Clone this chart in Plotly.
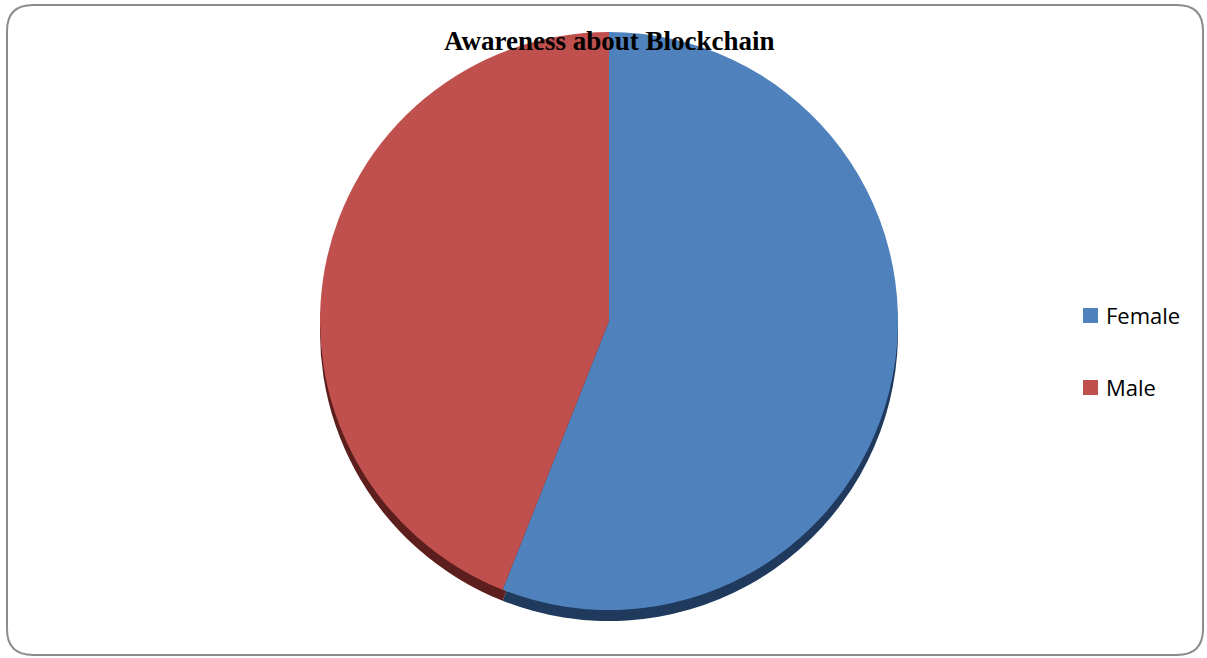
import plotly.graph_objects as go

# Chart data
labels = ["Female", "Male"]
values = [56, 44]
colors = ["#4F81BD", "#C0504D"]
edge_colors = ["#1F3A5C", "#5C1F1D"]
title_text = "Awareness about Blockchain"

W, H = 1207, 658


def px(x):
    return x / W


def py(y):
    return 1 - y / H


# Pie geometry (pixels)
cx, cy, r = 609, 321, 289
depth = 11

fig = go.Figure()

# darker copy shifted down gives the pie its thickness
fig.add_trace(go.Pie(
    labels=labels, values=values, sort=False, direction="clockwise",
    marker=dict(colors=edge_colors, line=dict(width=0)),
    textinfo="none", hoverinfo="skip", showlegend=False,
    domain=dict(x=[px(cx - r), px(cx + r)], y=[py(cy + depth + r), py(cy + depth - r)]),
))
fig.add_trace(go.Pie(
    labels=labels, values=values, sort=False, direction="clockwise",
    marker=dict(colors=colors, line=dict(width=0)),
    textinfo="none", showlegend=False,
    domain=dict(x=[px(cx - r), px(cx + r)], y=[py(cy + r), py(cy - r)]),
))

# rounded chart-area border
x0, y0, x1, y1, rr = 7, 5, 1203, 655, 26
pts = [
    ("M", [(x0 + rr, y0)]),
    ("L", [(x1 - rr, y0)]),
    ("Q", [(x1, y0), (x1, y0 + rr)]),
    ("L", [(x1, y1 - rr)]),
    ("Q", [(x1, y1), (x1 - rr, y1)]),
    ("L", [(x0 + rr, y1)]),
    ("Q", [(x0, y1), (x0, y1 - rr)]),
    ("L", [(x0, y0 + rr)]),
    ("Q", [(x0, y0), (x0 + rr, y0)]),
]
path = " ".join(
    cmd + " " + " ".join(f"{px(a):.5f},{py(b):.5f}" for a, b in p) for cmd, p in pts
) + " Z"

shapes = [dict(type="path", xref="paper", yref="paper", path=path,
               line=dict(color="#8C8C8C", width=2))]

# legend: square markers with labels
legend_y = [315, 387]
annotations = [dict(
    text=title_text, x=px(609), y=py(41), xref="paper", yref="paper",
    xanchor="center", yanchor="middle", showarrow=False,
    font=dict(family="Liberation Serif", size=27, color="black", weight="bold"),
)]
for lab, col, yy in zip(labels, colors, legend_y):
    shapes.append(dict(type="rect", xref="paper", yref="paper",
                       x0=px(1083), x1=px(1098), y0=py(yy + 8), y1=py(yy - 7),
                       fillcolor=col, line=dict(width=0)))
    annotations.append(dict(
        text=lab, x=px(1104), y=py(yy), xref="paper", yref="paper",
        xanchor="left", yanchor="middle", showarrow=False,
        font=dict(family="Open Sans", size=22, color="black"),
    ))

fig.update_layout(
    width=W, height=H,
    margin=dict(l=0, r=0, t=0, b=0),
    paper_bgcolor="white", plot_bgcolor="white",
    shapes=shapes, annotations=annotations,
)

fig.write_html("out.html")
